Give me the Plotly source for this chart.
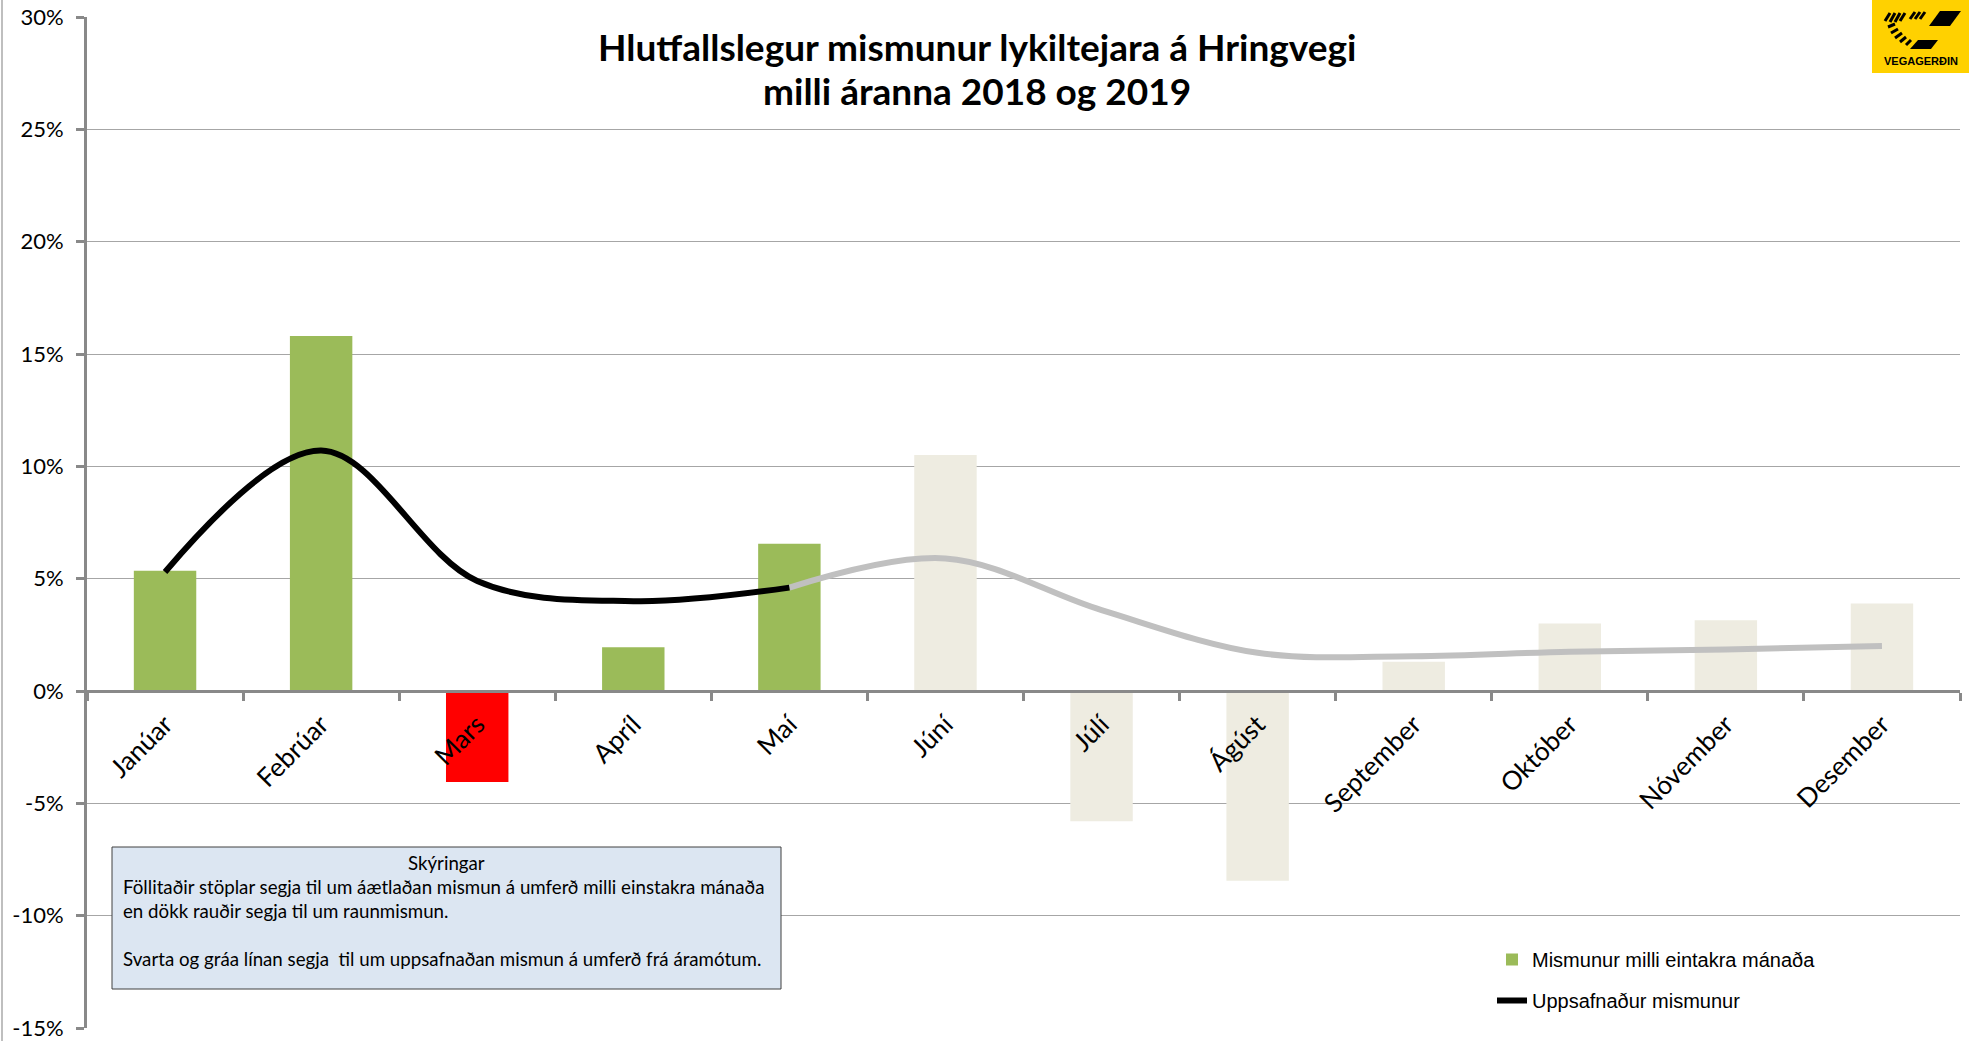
import plotly.graph_objects as go

# ---------------- data ----------------
months = ["Janúar", "Febrúar", "Mars", "Apríl", "Maí", "Júní",
          "Júlí", "Ágúst", "September", "Október", "Nóvember", "Desember"]
monthly_change = [5.35, 15.8, -4.05, 1.95, 6.55, 10.5, -5.8, -8.45, 1.3, 3.0, 3.15, 3.9]
monthly_status = ["measured", "measured", "real", "measured", "measured", "estimate",
                  "estimate", "estimate", "estimate", "estimate", "estimate", "estimate"]
cumulative_change = [5.3, 10.7, 4.9, 4.0, 4.6, 5.9, 3.6, 1.7, 1.55, 1.75, 1.85, 2.0]
last_measured_month = "Maí"
y_ticks = [-15, -10, -5, 0, 5, 10, 15, 20, 25, 30]

title_lines = ["Hlutfallslegur mismunur lykiltejara á Hringvegi", "milli áranna 2018 og 2019"]
note_title = "Skýringar"
note_lines = ["Föllitaðir stöplar segja til um áætlaðan mismun á umferð milli einstakra mánaða",
              "en dökk rauðir segja til um raunmismun.",
              "",
              "Svarta og gráa línan segja  til um uppsafnaðan mismun á umferð frá áramótum."]
legend_names = {"measured": "Mismunur milli eintakra mánaða", "line": "Uppsafnaður mismunur"}

# ---------------- style ----------------
W, H = 1976, 1041
ML, MR, MT, MB = 87, 16, 17, 13
FONT = "Lato, Carlito, Calibri, sans-serif"
ARIAL = "Liberation Sans, Arial, sans-serif"
status_colors = {"measured": "#9BBB59", "real": "#FF0000", "estimate": "#EEECE1"}
AXIS_COLOR = "#898989"
GRID_COLOR = "#A6A6A6"


def px(x):
    return (x - ML) / (W - ML - MR)


def py(y):
    return (H - MB - y) / (H - MT - MB)


fig = go.Figure()

for status in ["measured", "real", "estimate"]:
    xs = [m for m, s in zip(months, monthly_status) if s == status]
    ys = [v for v, s in zip(monthly_change, monthly_status) if s == status]
    fig.add_trace(go.Bar(
        x=xs, y=ys, name=legend_names.get(status, status),
        marker=dict(color=status_colors[status], line=dict(width=0)),
        showlegend=(status == "measured"), legendgroup=status,
    ))

split = months.index(last_measured_month)
fig.add_trace(go.Scatter(
    x=months[split:], y=cumulative_change[split:], mode="lines",
    line=dict(color="#C0C0C0", width=6, shape="spline", smoothing=1.0),
    showlegend=False, hoverinfo="skip",
))
fig.add_trace(go.Scatter(
    x=months[:split + 1], y=cumulative_change[:split + 1], mode="lines",
    name=legend_names["line"], legendgroup="line",
    line=dict(color="#000000", width=6, shape="spline", smoothing=1.0),
))

shapes = []
annotations = []

# left border of chart area
shapes.append(dict(type="line", xref="paper", yref="paper", x0=px(2), x1=px(2), y0=py(0), y1=py(1041),
                   line=dict(color="#BFBFBF", width=2)))
# title background (covers the top gridline)
shapes.append(dict(type="rect", xref="paper", yref="paper", x0=px(590), x1=px(1363), y0=py(2), y1=py(112),
                   fillcolor="white", line=dict(width=0), layer="above"))
# logo
shapes.append(dict(type="rect", xref="paper", yref="paper", x0=px(1872), x1=px(1969), y0=py(0), y1=py(73),
                   fillcolor="#FFD100", line=dict(width=0), layer="above"))
strokes = [
    (1885, 21, 1890, 13), (1890, 22, 1895, 13), (1895, 22, 1900, 13), (1900, 21, 1905, 13),
    (1910, 19, 1915, 12), (1915, 19, 1920, 12), (1920, 19, 1925, 12),
    (1888, 27, 1895, 24), (1891, 33, 1898, 29), (1895, 38, 1902, 33), (1900, 42, 1906, 37),
    (1906, 45, 1911, 40),
]
for (x0, y0, x1, y1) in strokes:
    shapes.append(dict(type="line", xref="paper", yref="paper", x0=px(x0), y0=py(y0), x1=px(x1), y1=py(y1),
                       line=dict(color="black", width=3), layer="above"))


def poly(pts):
    return "M " + " L ".join(f"{px(x):.5f},{py(y):.5f}" for x, y in pts) + " Z"


shapes.append(dict(type="path", xref="paper", yref="paper",
                   path=poly([(1940, 11), (1961, 11), (1950, 26), (1929, 26)]),
                   fillcolor="black", line=dict(width=0), layer="above"))
shapes.append(dict(type="path", xref="paper", yref="paper",
                   path=poly([(1918, 40), (1938, 40), (1931, 49), (1910, 49)]),
                   fillcolor="black", line=dict(width=0), layer="above"))
annotations.append(dict(xref="paper", yref="paper", x=px(1921), y=py(61), text="<b>VEGAGERÐIN</b>",
                        showarrow=False, xanchor="center", yanchor="middle",
                        font=dict(family=ARIAL, size=11, color="black")))

# title
for txt, yc in zip(title_lines, [46, 90]):
    annotations.append(dict(xref="paper", yref="paper", x=px(977), y=py(yc), text=f"<b>{txt}</b>",
                            showarrow=False, xanchor="center", yanchor="middle",
                            font=dict(family=FONT, size=37, color="black")))

# explanation box
shapes.append(dict(type="rect", xref="paper", yref="paper", x0=px(112), x1=px(781), y0=py(847), y1=py(989),
                   fillcolor="#DCE6F2", line=dict(color="#404040", width=1), layer="above"))
annotations.append(dict(xref="paper", yref="paper", x=px(446), y=py(863), text=note_title,
                        showarrow=False, xanchor="center", yanchor="middle",
                        font=dict(family=FONT, size=18.7, color="black")))
for i, line in enumerate(note_lines):
    if not line:
        continue
    annotations.append(dict(xref="paper", yref="paper", x=px(121), y=py(887 + 24 * i), text=line,
                            showarrow=False, xanchor="left", yanchor="middle",
                            font=dict(family=FONT, size=18.7, color="black")))

fig.update_layout(
    width=W, height=H,
    margin=dict(l=ML, r=MR, t=MT, b=MB, pad=0),
    paper_bgcolor="white", plot_bgcolor="white",
    barmode="overlay", bargap=0.6,
    showlegend=True,
    legend=dict(x=px(1492), y=py(940), xanchor="left", yanchor="top",
                font=dict(family=ARIAL, size=20, color="black"),
                bgcolor="rgba(0,0,0,0)", tracegroupgap=12, itemwidth=30),
    shapes=shapes, annotations=annotations,
    xaxis=dict(type="category", categoryorder="array", categoryarray=months,
               range=[-0.5, 11.5], anchor="free", position=1 / 3,
               showline=True, linecolor=AXIS_COLOR, linewidth=3,
               ticks="outside", ticklen=8, tickwidth=3, tickcolor=AXIS_COLOR,
               tickson="boundaries", tickangle=-45, showgrid=False, zeroline=False,
               ticklabelstandoff=6,
               tickfont=dict(family=FONT, size=26, color="black"), automargin=False),
    yaxis=dict(range=[-15, 30], tickvals=y_ticks, ticktext=[f"{v}%" for v in y_ticks],
               showline=True, linecolor=AXIS_COLOR, linewidth=3,
               ticks="outside", ticklen=8, tickwidth=3, tickcolor=AXIS_COLOR,
               ticklabelstandoff=8,
               showgrid=True, gridcolor=GRID_COLOR, gridwidth=1, zeroline=False,
               tickfont=dict(family=FONT, size=22, color="black"), automargin=False),
)

fig.write_html("out.html", config={"displayModeBar": False},
               post_script="document.body.style.margin='0px';document.body.style.overflow='hidden';")
